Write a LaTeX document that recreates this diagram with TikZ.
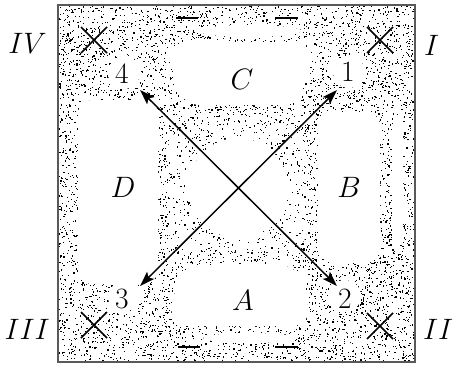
\RequirePackage{fix-cm}
\documentclass[tikz,border=0pt]{standalone}
\usetikzlibrary{arrows.meta}
\begin{document}
\begin{tikzpicture}[x=1pt,y=-1pt,
  lab/.style={inner sep=0pt, font=\fontsize{29.5}{34}\selectfont},
  crossline/.style={line width=1.5pt},
  arr/.style={line width=1.5pt, {Stealth[length=15pt,width=10pt,inset=3pt]}-{Stealth[length=15pt,width=10pt,inset=3pt]}},
  island/.style={fill=white, draw=none},
  shortbar/.style={line width=1.2pt}]
\useasboundingbox (0,0) rectangle (454,364);
\pgfmathsetseed{4711}
\begin{scope}
  \clip (58,5) rectangle (415,362);
  % dense stipple
  \foreach \i in {1,...,8500}{%
    \pgfmathsetmacro\xa{57+358*rnd}\pgfmathsetmacro\ya{4+358*rnd}%
    \fill (\xa,\ya) rectangle +(1.2,1.2);}
  % white islands
  \fill[island, rounded corners=20] (168,42) -- (312,42) -- (300,105) -- (180,105) -- cycle;
  \fill[island, rounded corners=20] (180,265) -- (300,265) -- (312,326) -- (168,326) -- cycle;
  \fill[island, rounded corners=14] (78,100) rectangle (158,284);
  \fill[island, rounded corners=14] (318,112) rectangle (380,262);
  \fill[island, rounded corners=5] (392,122) rectangle (403,245);
  \fill[island] (250,31) ellipse [x radius=52, y radius=6];
  \fill[island] (250,338) ellipse [x radius=47, y radius=5];
  \fill[island] (124,73) circle (16);
  \fill[island] (349,72) circle (16);
  \fill[island] (123,297) circle (15);
  \fill[island] (345,296) circle (16);
  % sparse centre
  \fill[island, rounded corners=25] (168,125) rectangle (308,252);
  \foreach \i in {1,...,600}{%
    \pgfmathsetmacro\xa{168+140*rnd}\pgfmathsetmacro\ya{125+127*rnd}%
    \fill (\xa,\ya) rectangle +(1.2,1.2);}
  \fill[island] (238,188) circle (50);
  % short bars
  \draw[shortbar] (176,18) -- (198,18);
  \draw[shortbar] (275,18) -- (298,18);
  \draw[shortbar] (178,347) -- (200,347);
  \draw[shortbar] (275,347) -- (298,347);
\end{scope}
\draw[line width=1.3pt, black!65] (58,5) rectangle (415,362);
% crosses
\coordinate (xIV) at (94,40);
\coordinate (xI) at (380,40);
\coordinate (xIII) at (94,325);
\coordinate (xII) at (380,326);
\foreach \c in {xIV,xI,xIII,xII}{
  \draw[crossline] ([shift={(-13,-13)}]\c) -- ([shift={(13,13)}]\c);
  \draw[crossline] ([shift={(-13,13)}]\c) -- ([shift={(13,-13)}]\c);
}
% arrows
\coordinate (t4) at (140,90);
\coordinate (t1) at (337,90);
\coordinate (t3) at (140,286);
\coordinate (t2) at (337,286);
\draw[arr] (t4) -- (t2);
\draw[arr] (t3) -- (t1);
% labels
\node[lab, anchor=east] (lIV) at (47,43) {$IV$};
\node[lab, anchor=west] (lI) at (424,45) {$I$};
\node[lab, anchor=east] (lIII) at (50,329) {$III$};
\node[lab, anchor=west] (lII) at (423,329) {$II$};
\node[lab] (n4) at (122,74) {$4$};
\node[lab] (n1) at (348,72) {$1$};
\node[lab] (n3) at (122,299) {$3$};
\node[lab] (n2) at (345,299) {$2$};
\node[lab] (lC) at (242,79) {$C$};
\node[lab] (lA) at (243,300) {$A$};
\node[lab] (lD) at (123,187) {$D$};
\node[lab] (lB) at (349,187) {$B$};
\end{tikzpicture}
\end{document}
